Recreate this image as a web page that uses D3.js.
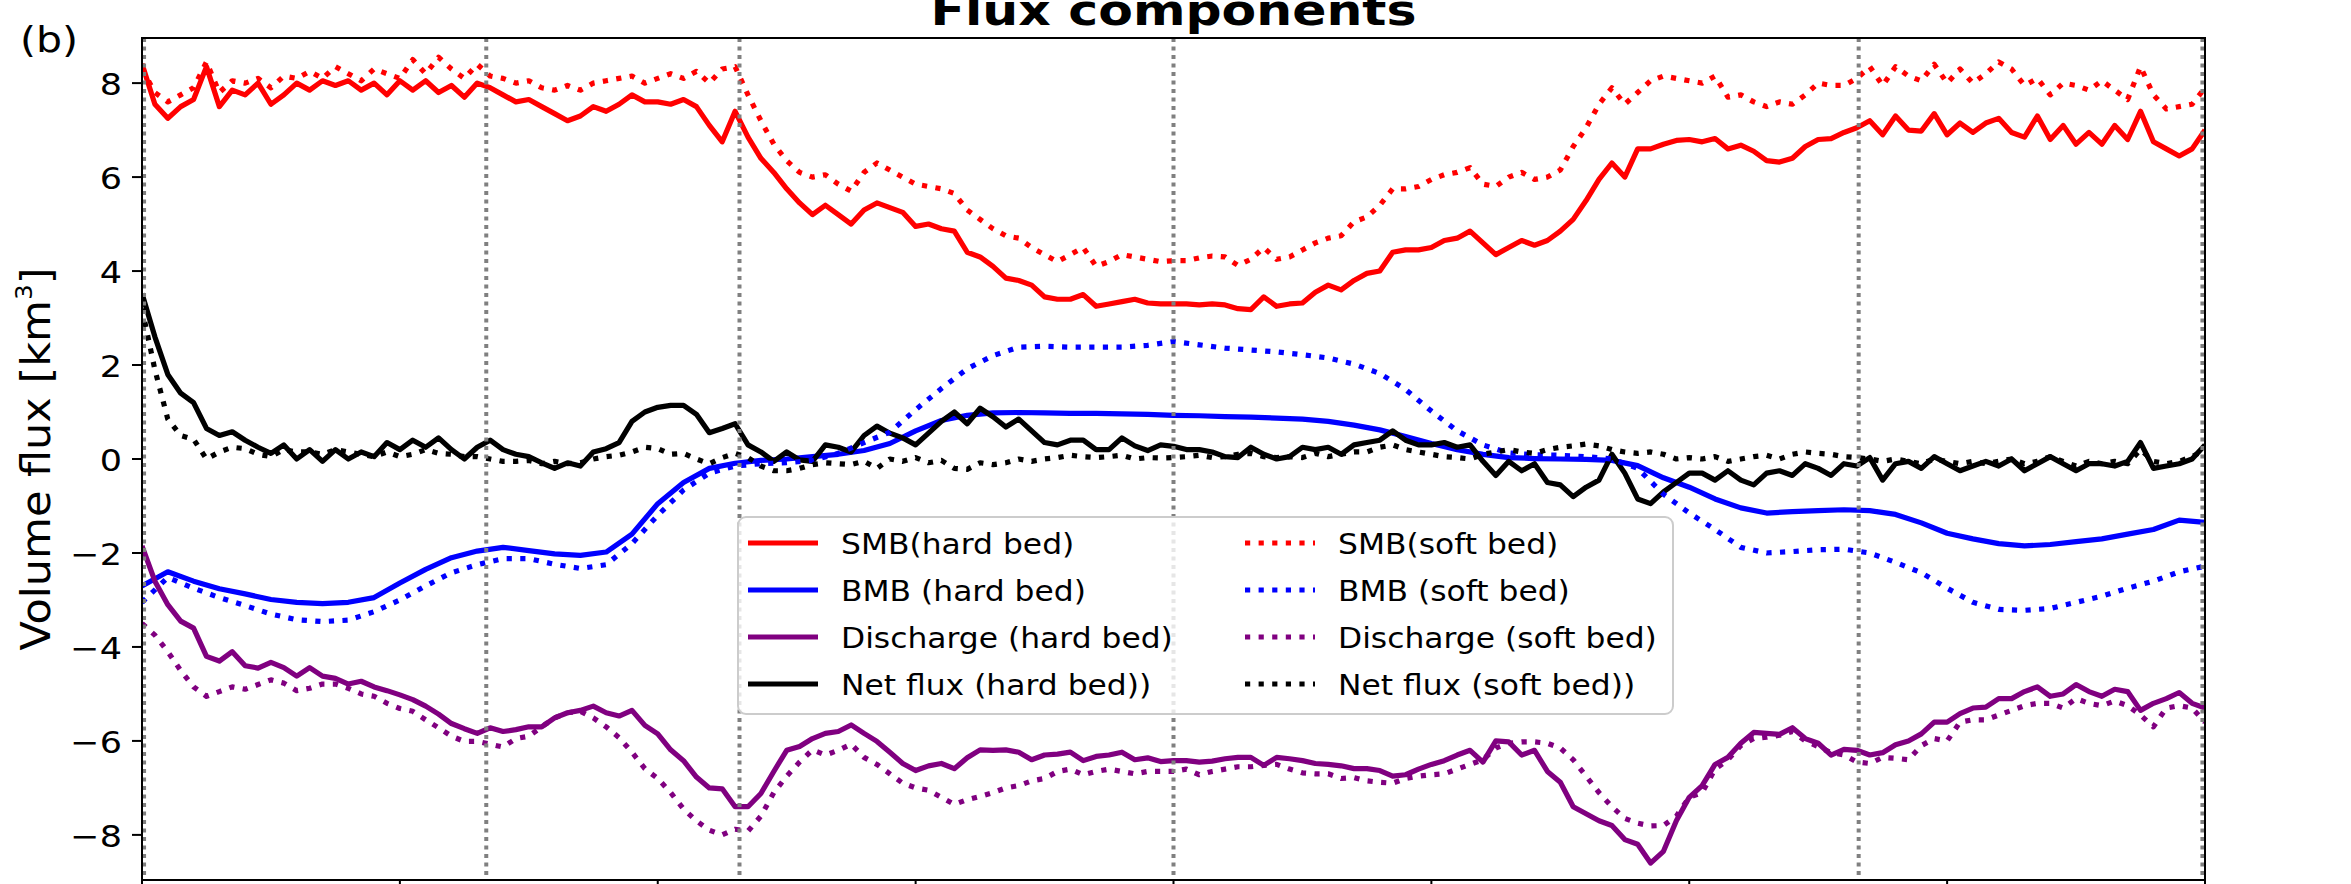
<!DOCTYPE html>
<html>
<head>
<meta charset="utf-8">
<script src="https://cdn.jsdelivr.net/npm/d3@7"></script>
<style>
  body { margin: 0; background: #fff; }
  text { font-family: "DejaVu Sans", sans-serif; }
</style>
</head>
<body>
<svg id="chart"></svg>
<script>
var W = 2351, H = 884;
var plot = {"left": 142, "right": 2205, "top": 38, "bottom": 880};

// x in tick units (0..8), noisy series sampled every 0.05, BMB every 0.1
var xFine = d3.range(0, 161).map(function(i) { return i * 0.05; });
var xCoarse = d3.range(0, 81).map(function(i) { return i * 0.1; });

var xTicks = [0, 1, 2, 3, 4, 5, 6, 7, 8];
var yTicks = [-8, -6, -4, -2, 0, 2, 4, 6, 8];
var eventLines = [0.008, 1.335, 2.317, 4.0, 6.657, 7.99];

var smbHard = [8.41, 7.55, 7.25, 7.5, 7.65, 8.35, 7.5, 7.85, 7.75, 8.0, 7.55, 7.75, 8.0, 7.85, 8.05, 7.95, 8.05, 7.85, 8.0, 7.75, 8.05,
  7.85, 8.05, 7.8, 7.95, 7.7, 8.0, 7.9, 7.75, 7.6, 7.65, 7.5, 7.35, 7.2, 7.3, 7.5, 7.4, 7.55, 7.75, 7.6, 7.6,
  7.55, 7.65, 7.5, 7.1, 6.75, 7.4, 6.85, 6.4, 6.1, 5.75, 5.45, 5.2, 5.4, 5.2, 5.0, 5.3, 5.45, 5.35, 5.25, 4.95,
  5.0, 4.9, 4.85, 4.4, 4.3, 4.1, 3.85, 3.8, 3.7, 3.45, 3.4, 3.4, 3.5, 3.25, 3.3, 3.35, 3.4, 3.32, 3.3, 3.3,
  3.3, 3.28, 3.3, 3.28, 3.2, 3.18, 3.45, 3.25, 3.3, 3.32, 3.55, 3.7, 3.6, 3.8, 3.95, 4.0, 4.4, 4.45, 4.45, 4.5,
  4.65, 4.7, 4.85, 4.6, 4.35, 4.5, 4.65, 4.55, 4.65, 4.85, 5.1, 5.5, 5.95, 6.3, 6.0, 6.6, 6.6, 6.7, 6.78, 6.8,
  6.75, 6.82, 6.6, 6.68, 6.55, 6.35, 6.32, 6.4, 6.65, 6.8, 6.82, 6.95, 7.05, 7.2, 6.9, 7.3, 7.0, 6.98, 7.35, 6.9,
  7.15, 6.95, 7.15, 7.25, 6.95, 6.85, 7.3, 6.8, 7.1, 6.7, 6.95, 6.7, 7.1, 6.8, 7.4, 6.75, 6.6, 6.45, 6.6, 7.0];

var smbSoft = [8.3, 7.8, 7.6, 7.75, 7.9, 8.45, 7.8, 8.05, 8.0, 8.1, 7.9, 8.15, 8.1, 8.25, 8.1, 8.35, 8.2, 8.05, 8.3, 8.2, 8.1,
  8.5, 8.2, 8.55, 8.3, 8.1, 8.4, 8.15, 8.1, 8.0, 8.05, 7.9, 7.85, 7.95, 7.85, 8.0, 8.05, 8.1, 8.15, 8.0, 8.1,
  8.2, 8.1, 8.25, 8.0, 8.3, 8.35, 7.75, 7.2, 6.7, 6.35, 6.1, 6.0, 6.05, 5.85, 5.7, 6.1, 6.3, 6.15, 6.0, 5.85,
  5.8, 5.75, 5.65, 5.3, 5.1, 4.9, 4.75, 4.7, 4.5, 4.35, 4.2, 4.35, 4.5, 4.1, 4.2, 4.35, 4.3, 4.25, 4.2, 4.22,
  4.22, 4.28, 4.32, 4.3, 4.12, 4.25, 4.5, 4.25, 4.3, 4.45, 4.6, 4.7, 4.75, 5.05, 5.15, 5.4, 5.75, 5.75, 5.8, 5.95,
  6.05, 6.1, 6.2, 5.85, 5.8, 6.0, 6.1, 5.95, 6.0, 6.15, 6.65, 7.05, 7.55, 7.9, 7.55, 7.8, 8.05, 8.15, 8.1, 8.05,
  8.0, 8.15, 7.7, 7.75, 7.6, 7.5, 7.6, 7.55, 7.75, 8.0, 7.95, 7.95, 8.1, 8.35, 7.95, 8.35, 8.15, 8.05, 8.4, 8.0,
  8.3, 8.0, 8.2, 8.45, 8.3, 7.95, 8.1, 7.75, 8.0, 7.95, 7.85, 8.05, 7.85, 7.65, 8.35, 7.75, 7.45, 7.5, 7.55, 7.9];

var netHard = [3.52, 2.6, 1.8, 1.4, 1.2, 0.65, 0.5, 0.58, 0.4, 0.25, 0.12, 0.3, 0.0, 0.2, -0.05, 0.2, 0.0, 0.15, 0.05, 0.35, 0.2,
  0.4, 0.25, 0.45, 0.2, 0.0, 0.25, 0.4, 0.2, 0.1, 0.05, -0.08, -0.2, -0.08, -0.15, 0.15, 0.22, 0.35, 0.8, 1.0, 1.1,
  1.14, 1.14, 0.95, 0.56, 0.65, 0.75, 0.3, 0.15, -0.05, 0.15, -0.02, -0.05, 0.3, 0.25, 0.15, 0.5, 0.7, 0.55, 0.45, 0.3,
  0.55, 0.8, 1.0, 0.75, 1.08, 0.9, 0.68, 0.85, 0.6, 0.35, 0.3, 0.4, 0.4, 0.2, 0.2, 0.45, 0.28, 0.18, 0.3, 0.27,
  0.2, 0.2, 0.15, 0.05, 0.03, 0.25, 0.1, 0.0, 0.05, 0.25, 0.2, 0.25, 0.1, 0.3, 0.35, 0.4, 0.6, 0.4, 0.3, 0.3,
  0.35, 0.25, 0.3, -0.05, -0.35, -0.05, -0.25, -0.1, -0.5, -0.55, -0.8, -0.6, -0.45, 0.1, -0.3, -0.85, -0.95, -0.7, -0.5, -0.3,
  -0.3, -0.45, -0.25, -0.45, -0.55, -0.3, -0.25, -0.35, -0.1, -0.2, -0.35, -0.1, -0.15, 0.03, -0.45, -0.1, -0.05, -0.2, 0.05, -0.1,
  -0.25, -0.15, -0.05, -0.15, 0.0, -0.25, -0.1, 0.05, -0.1, -0.25, -0.1, -0.1, -0.15, -0.05, 0.35, -0.2, -0.15, -0.1, 0.0, 0.3];

var netSoft = [3.2, 1.9, 0.85, 0.5, 0.42, 0.0, 0.15, 0.25, 0.22, 0.1, 0.05, 0.2, 0.15, 0.15, 0.1, 0.2, 0.15, 0.1, 0.05, 0.15, 0.05,
  0.1, 0.2, 0.12, 0.1, 0.05, 0.05, 0.0, -0.05, -0.05, -0.03, -0.1, -0.05, -0.1, -0.08, 0.0, 0.05, 0.08, 0.15, 0.25, 0.22,
  0.1, 0.12, 0.0, -0.1, 0.03, 0.12, 0.03, -0.15, -0.25, -0.25, -0.2, -0.12, -0.08, -0.1, -0.12, -0.05, -0.2, 0.0, -0.05, 0.03,
  -0.08, -0.03, -0.2, -0.22, -0.08, -0.12, -0.08, 0.0, -0.05, 0.0, 0.03, 0.08, 0.05, 0.03, 0.05, 0.08, 0.0, 0.03, 0.02, 0.03,
  0.05, 0.08, 0.03, 0.05, 0.1, 0.12, 0.05, 0.03, 0.05, 0.03, 0.12, 0.05, 0.1, 0.15, 0.15, 0.25, 0.3, 0.2, 0.15, 0.1,
  0.05, 0.03, 0.0, 0.1, 0.15, 0.2, 0.15, 0.12, 0.2, 0.25, 0.28, 0.32, 0.28, 0.2, 0.15, 0.12, 0.15, 0.1, 0.0, 0.03,
  0.0, 0.05, -0.05, 0.0, 0.05, 0.08, 0.0, 0.1, 0.15, 0.12, 0.1, 0.05, 0.03, 0.0, -0.05, 0.0, -0.05, -0.1, 0.0, -0.05,
  -0.1, -0.05, -0.1, -0.05, 0.0, -0.1, -0.05, 0.05, -0.05, -0.15, -0.05, -0.1, -0.05, -0.1, 0.2, -0.05, -0.1, -0.05, 0.05, 0.2];

var dischHard = [-1.85, -2.6, -3.1, -3.45, -3.6, -4.2, -4.3, -4.1, -4.4, -4.45, -4.33, -4.44, -4.62, -4.44, -4.62, -4.67, -4.79, -4.73, -4.85, -4.93, -5.02,
  -5.12, -5.26, -5.43, -5.63, -5.74, -5.84, -5.72, -5.8, -5.76, -5.7, -5.7, -5.51, -5.4, -5.35, -5.26, -5.4, -5.47, -5.35, -5.67, -5.85,
  -6.19, -6.42, -6.77, -7.0, -7.02, -7.4, -7.4, -7.12, -6.65, -6.2, -6.12, -5.95, -5.84, -5.8, -5.66, -5.84, -6.01, -6.24, -6.48, -6.63,
  -6.53, -6.48, -6.59, -6.36, -6.19, -6.2, -6.19, -6.24, -6.4, -6.3, -6.28, -6.24, -6.42, -6.33, -6.3, -6.24, -6.4, -6.36, -6.44, -6.42,
  -6.42, -6.45, -6.43, -6.38, -6.35, -6.35, -6.52, -6.35, -6.38, -6.42, -6.48, -6.5, -6.53, -6.59, -6.59, -6.63, -6.75, -6.72, -6.6, -6.5,
  -6.42, -6.3, -6.2, -6.45, -6.0, -6.02, -6.3, -6.2, -6.65, -6.88, -7.4, -7.55, -7.7, -7.8, -8.1, -8.2, -8.6, -8.35, -7.7, -7.2,
  -6.95, -6.5, -6.35, -6.05, -5.82, -5.84, -5.86, -5.72, -5.95, -6.05, -6.3, -6.18, -6.2, -6.3, -6.25, -6.08, -6.0, -5.85, -5.6, -5.6,
  -5.42, -5.3, -5.28, -5.1, -5.1, -4.95, -4.85, -5.05, -5.0, -4.8, -4.95, -5.05, -4.9, -4.95, -5.35, -5.2, -5.1, -4.97, -5.2, -5.3];

var dischSoft = [-3.5, -3.75, -4.1, -4.5, -4.85, -5.05, -4.95, -4.85, -4.9, -4.8, -4.7, -4.77, -4.93, -4.88, -4.79, -4.79, -4.88, -5.0, -5.05, -5.2, -5.31,
  -5.37, -5.55, -5.72, -5.9, -6.01, -6.01, -6.07, -6.13, -5.95, -5.9, -5.7, -5.51, -5.4, -5.37, -5.51, -5.7, -5.93, -6.24, -6.59, -6.8,
  -7.1, -7.45, -7.7, -7.9, -8.0, -7.88, -7.92, -7.6, -7.1, -6.75, -6.45, -6.19, -6.3, -6.2, -6.07, -6.35, -6.5, -6.7, -6.9, -7.0,
  -7.05, -7.2, -7.35, -7.25, -7.18, -7.1, -7.0, -6.95, -6.85, -6.8, -6.65, -6.6, -6.72, -6.65, -6.6, -6.65, -6.7, -6.65, -6.65, -6.65,
  -6.6, -6.72, -6.65, -6.6, -6.55, -6.55, -6.52, -6.5, -6.6, -6.68, -6.7, -6.7, -6.8, -6.78, -6.85, -6.88, -6.9, -6.8, -6.75, -6.72,
  -6.7, -6.6, -6.5, -6.4, -6.15, -6.05, -6.02, -6.02, -6.05, -6.15, -6.4, -6.75, -7.1, -7.4, -7.65, -7.75, -7.81, -7.8, -7.6, -7.2,
  -7.1, -6.6, -6.4, -6.1, -5.95, -5.92, -5.88, -5.8, -6.0, -6.12, -6.25, -6.3, -6.45, -6.48, -6.35, -6.37, -6.4, -6.1, -5.95, -6.0,
  -5.6, -5.55, -5.55, -5.45, -5.35, -5.25, -5.2, -5.2, -5.3, -5.1, -5.2, -5.25, -5.15, -5.25, -5.45, -5.7, -5.3, -5.25, -5.3, -5.6];

var bmbHard = [-2.7, -2.4, -2.6, -2.76, -2.87, -2.99, -3.05, -3.08, -3.05, -2.95, -2.64, -2.35, -2.1, -1.96, -1.88, -1.95, -2.02, -2.05, -1.98, -1.6, -0.95,
  -0.5, -0.2, -0.09, -0.03, 0.0, 0.05, 0.1, 0.18, 0.33, 0.6, 0.82, 0.93, 0.98, 0.99, 0.98, 0.97, 0.97, 0.96, 0.95, 0.93,
  0.92, 0.9, 0.89, 0.87, 0.85, 0.8, 0.72, 0.62, 0.48, 0.33, 0.2, 0.1, 0.03, 0.01, 0.0, -0.01, -0.03, -0.14, -0.4, -0.6,
  -0.85, -1.04, -1.15, -1.12, -1.1, -1.08, -1.1, -1.18, -1.36, -1.58, -1.7, -1.8, -1.85, -1.82, -1.76, -1.7, -1.6, -1.5, -1.3, -1.35];

var bmbSoft = [-3.05, -2.52, -2.75, -2.95, -3.12, -3.3, -3.42, -3.46, -3.43, -3.25, -3.0, -2.7, -2.42, -2.25, -2.12, -2.12, -2.24, -2.33, -2.25, -1.8, -1.2,
  -0.66, -0.3, -0.15, -0.1, -0.08, -0.03, 0.12, 0.35, 0.57, 1.05, 1.5, 1.92, 2.2, 2.38, 2.4, 2.38, 2.38, 2.38, 2.42, 2.5,
  2.43, 2.36, 2.32, 2.28, 2.22, 2.15, 2.02, 1.82, 1.48, 1.02, 0.6, 0.3, 0.13, 0.09, 0.08, 0.05, 0.0, -0.2, -0.75, -1.15,
  -1.5, -1.88, -2.0, -1.97, -1.93, -1.92, -2.0, -2.2, -2.42, -2.75, -3.05, -3.2, -3.22, -3.18, -3.05, -2.92, -2.75, -2.6, -2.4, -2.28];

var legendLabels = ["SMB(hard bed)", "BMB (hard bed)", "Discharge (hard bed)", "Net flux (hard bed))",
                    "SMB(soft bed)", "BMB (soft bed)", "Discharge (soft bed)", "Net flux (soft bed))"];
var seriesColors = ["#ff0000", "#0000ff", "#800080", "#000000"];

// plotting order is the legend order: hard bed first, then soft bed
var series = [
  {label: legendLabels[0], xs: xFine,   ys: smbHard,   color: seriesColors[0], dotted: false},
  {label: legendLabels[1], xs: xCoarse, ys: bmbHard,   color: seriesColors[1], dotted: false},
  {label: legendLabels[2], xs: xFine,   ys: dischHard, color: seriesColors[2], dotted: false},
  {label: legendLabels[3], xs: xFine,   ys: netHard,   color: seriesColors[3], dotted: false},
  {label: legendLabels[4], xs: xFine,   ys: smbSoft,   color: seriesColors[0], dotted: true},
  {label: legendLabels[5], xs: xCoarse, ys: bmbSoft,   color: seriesColors[1], dotted: true},
  {label: legendLabels[6], xs: xFine,   ys: dischSoft, color: seriesColors[2], dotted: true},
  {label: legendLabels[7], xs: xFine,   ys: netSoft,   color: seriesColors[3], dotted: true}
];

var lineWidth = 5.2;
var dotDash = "5.2,8.4";

var svg = d3.select("#chart").attr("width", W).attr("height", H);
svg.append("rect").attr("width", W).attr("height", H).attr("fill", "#fff");

var xScale = d3.scaleLinear().domain([0, 8]).range([plot.left, plot.right]);
var yScale = d3.scaleLinear().domain([-8.96, 8.96]).range([plot.bottom, plot.top]);

svg.append("clipPath").attr("id", "clip")
   .append("rect")
   .attr("x", plot.left).attr("y", plot.top)
   .attr("width", plot.right - plot.left).attr("height", plot.bottom - plot.top);

var lineGen = d3.line()
                .x(function(d) { return xScale(d[0]); })
                .y(function(d) { return yScale(d[1]); });

var linesG = svg.append("g").attr("clip-path", "url(#clip)");

series.forEach(function(s) {
  var pts = s.xs.map(function(x, i) { return [x, s.ys[i]]; });
  linesG.append("path")
        .attr("d", lineGen(pts))
        .attr("fill", "none")
        .attr("stroke", s.color)
        .attr("stroke-width", lineWidth)
        .attr("stroke-linejoin", "round")
        .attr("stroke-dasharray", s.dotted ? dotDash : null);
});

// grey dotted event markers
linesG.selectAll(".event")
      .data(eventLines)
      .enter().append("line")
      .attr("class", "event")
      .attr("x1", function(d) { return xScale(d); })
      .attr("x2", function(d) { return xScale(d); })
      .attr("y1", plot.top).attr("y2", plot.bottom)
      .attr("stroke", "#808080")
      .attr("stroke-width", 4)
      .attr("stroke-dasharray", "4,4.5");

// frame
svg.append("rect")
   .attr("x", plot.left).attr("y", plot.top)
   .attr("width", plot.right - plot.left).attr("height", plot.bottom - plot.top)
   .attr("fill", "none").attr("stroke", "#000").attr("stroke-width", 2);

// y ticks
svg.selectAll(".ytick")
   .data(yTicks)
   .enter().append("line")
   .attr("x1", plot.left - 10).attr("x2", plot.left)
   .attr("y1", function(d) { return yScale(d); })
   .attr("y2", function(d) { return yScale(d); })
   .attr("stroke", "#000").attr("stroke-width", 2);

svg.selectAll(".ylab")
   .data(yTicks)
   .enter().append("g")
   .attr("transform", function(d) { return "translate(" + (plot.left - 20) + "," + (yScale(d) + 12) + ") scale(1.13,1)"; })
   .append("text")
   .attr("text-anchor", "end")
   .attr("font-size", 31)
   .text(function(d) { return (d < 0 ? "\u2212" : "") + Math.abs(d); });

// x ticks (labels fall below the picture)
svg.selectAll(".xtick")
   .data(xTicks)
   .enter().append("line")
   .attr("x1", function(d) { return xScale(d); })
   .attr("x2", function(d) { return xScale(d); })
   .attr("y1", plot.bottom).attr("y2", plot.bottom + 10)
   .attr("stroke", "#000").attr("stroke-width", 2);

// axis label
var yl = svg.append("text")
            .attr("transform", "translate(50," + yScale(0) + ") rotate(-90)")
            .attr("text-anchor", "middle")
            .attr("font-size", 40)
            .attr("textLength", 383)
            .attr("lengthAdjust", "spacingAndGlyphs");
yl.append("tspan").text("Volume flux [km");
yl.append("tspan").attr("dy", -18).attr("font-size", 23).text("3");
yl.append("tspan").attr("dy", 18).text("]");

// title and panel letter
svg.append("text")
   .attr("x", (plot.left + plot.right) / 2).attr("y", 25)
   .attr("text-anchor", "middle")
   .attr("font-size", 42).attr("font-weight", "bold")
   .attr("textLength", 486).attr("lengthAdjust", "spacingAndGlyphs")
   .text("Flux components");

svg.append("g").attr("transform", "translate(20,52) scale(1.14,1)")
   .append("text").attr("font-size", 36).text("(b)");

// legend, two columns
var legend = {"x": 738, "y": 517, "w": 935, "h": 197, "row0": 543, "rowStep": 47,
              "colX": [748, 1245], "sample": 70, "textOff": 93};
var lg = svg.append("g");
lg.append("rect")
  .attr("x", legend.x).attr("y", legend.y)
  .attr("width", legend.w).attr("height", legend.h)
  .attr("rx", 8).attr("ry", 8)
  .attr("fill", "#fff").attr("fill-opacity", 0.8)
  .attr("stroke", "#cccccc").attr("stroke-width", 2);

series.forEach(function(s, i) {
  var col = Math.floor(i / 4), row = i % 4;
  var x0 = legend.colX[col];
  var y0 = legend.row0 + row * legend.rowStep;
  lg.append("line")
    .attr("x1", x0).attr("x2", x0 + legend.sample)
    .attr("y1", y0).attr("y2", y0)
    .attr("stroke", s.color).attr("stroke-width", lineWidth)
    .attr("stroke-dasharray", s.dotted ? dotDash : null);
  lg.append("g")
    .attr("transform", "translate(" + (x0 + legend.textOff) + "," + (y0 + 11) + ") scale(1.12,1)")
    .append("text").attr("font-size", 28).text(s.label);
});
</script>
</body>
</html>
